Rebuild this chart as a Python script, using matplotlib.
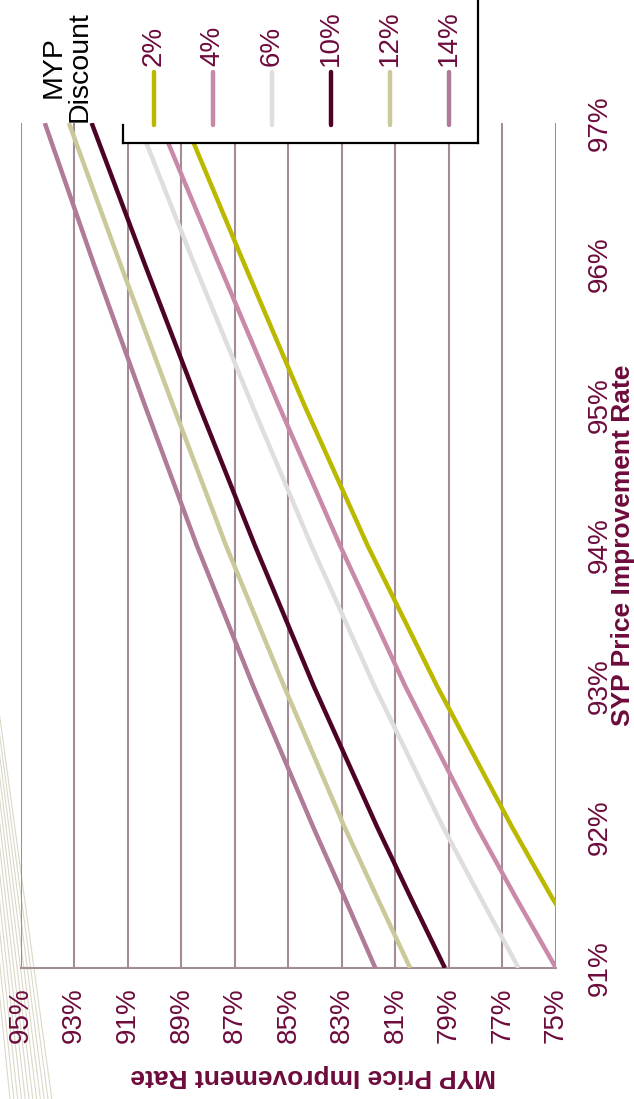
import matplotlib
matplotlib.use("Agg")
import matplotlib.pyplot as plt
from matplotlib.lines import Line2D
from matplotlib.patches import Rectangle

plt.rcParams['font.family'] = ['Liberation Sans', 'DejaVu Sans']

# ---- data ----
syp_rate = [91, 91.5, 92, 93, 94, 95, 96, 97]
discounts = ["2%", "4%", "6%", "10%", "12%", "14%"]
myp_2 = [73.5, 75.15, 76.64, 79.44, 82.04, 84.41, 86.65, 88.85]
myp_4 = [75.0, 76.5, 77.95, 80.63, 83.07, 85.37, 87.6, 89.8]
myp_6 = [76.4, 77.82, 79.22, 81.78, 84.14, 86.36, 88.52, 90.6]
myp_10 = [79.15, 80.43, 81.68, 84.05, 86.25, 88.35, 90.37, 92.35]
myp_12 = [80.45, 81.68, 82.9, 85.16, 87.33, 89.32, 91.28, 93.2]
myp_14 = [81.75, 82.9, 84.07, 86.31, 88.42, 90.37, 92.27, 94.1]
series = [myp_2, myp_4, myp_6, myp_10, myp_12, myp_14]
myp_ticks = [95, 93, 91, 89, 87, 85, 83, 81, 79, 77, 75]
syp_ticks = [91, 92, 93, 94, 95, 96, 97]

colors = ["#bbb800", "#c98aa9", "#dedede", "#4d0326", "#c9c99a", "#b07a99"]
text_col = "#6d0b3c"
grid_col = "#a38c96"

W, H = 634, 1099
fig = plt.figure(figsize=(W / 100, H / 100), dpi=100)
fig.patch.set_facecolor("white")

def fx(x):
    return x / W

def fy(y):
    return 1 - y / H

# decorative faint hatch lines bottom-left
for k in range(12):
    fig.add_artist(Line2D([fx(-30 + k * 2.5), fx(10 + k * 3.8)], [fy(700), fy(1099)],
                          color="#dcd8c8", lw=0.8, zorder=-1))

left, right, top, bottom = 20.7, 556.0, 123.0, 968.0
ax = fig.add_axes([fx(left), fy(bottom), (right - left) / W, (bottom - top) / H])
ax.set_facecolor("none")

for vals, c in zip(series, colors):
    ax.plot(vals, syp_rate, color=c, lw=3.2, solid_capstyle="butt", zorder=3)

ax.set_xlim(95, 75)
ax.set_ylim(91, 97)
ax.set_xticks(myp_ticks)
ax.set_xticklabels([f"{t}%" for t in myp_ticks], rotation=90, color=text_col, fontsize=20)
ax.set_yticks(syp_ticks)
ax.yaxis.tick_right()
ax.set_yticklabels([f"{t}%" for t in syp_ticks], rotation=90, color=text_col, fontsize=20, va="center")
ax.tick_params(axis="x", length=0, pad=14)
ax.tick_params(axis="y", length=0, pad=22)

ax.grid(axis="x", color=grid_col, lw=1.5, zorder=1)
ax.grid(axis="y", visible=False)
for s in ["top", "left", "right"]:
    ax.spines[s].set_visible(False)
ax.spines["bottom"].set_color(grid_col)
ax.spines["bottom"].set_linewidth(1.5)

ax.set_xlabel("MYP Price Improvement Rate", fontsize=19, fontweight="bold", color=text_col, rotation=180)
ax.xaxis.set_label_coords((313 - left) / (right - left), -(1076 - bottom) / (bottom - top))
ax.xaxis.label.set_ha("center")
ax.xaxis.label.set_va("center")
ax.yaxis.set_label_position("right")
ax.set_ylabel("SYP Price Improvement Rate", fontsize=19, fontweight="bold", color=text_col, rotation=90)
ax.yaxis.set_label_coords((623 - left) / (right - left), 0.5)
ax.yaxis.label.set_ha("center")
ax.yaxis.label.set_va("center")

# ---- rotated legend ----
bl, br, bb = 123, 478, 143
fig.add_artist(Rectangle((fx(bl), fy(bb)), fx(br) - fx(bl), fy(-5) - fy(bb),
                         facecolor="white", edgecolor="none", zorder=5))
for xs, ys in [([bl, br], [bb, bb]), ([br, br], [-5, bb]), ([bl, bl], [125, bb])]:
    fig.add_artist(Line2D([fx(v) for v in xs], [fy(v) for v in ys], color="black", lw=1.6, zorder=6))

fig.text(fx(67), fy(67), "MYP\nDiscount", rotation=90, ha="center", va="center",
         multialignment="center", fontsize=20.5, color="black", linespacing=1.0, zorder=7)
leg_x = [153.5, 212.5, 271.5, 331, 390, 449]
for lx, lab, c in zip(leg_x, discounts, colors):
    fig.add_artist(Line2D([fx(lx), fx(lx)], [fy(72), fy(125)], color=c, lw=3.2,
                          solid_capstyle="round", zorder=7))
    fig.text(fx(lx), fy(66), lab, rotation=90, ha="center", va="bottom",
             fontsize=20, color=text_col, zorder=7)

fig.savefig("out.png", dpi=100)
